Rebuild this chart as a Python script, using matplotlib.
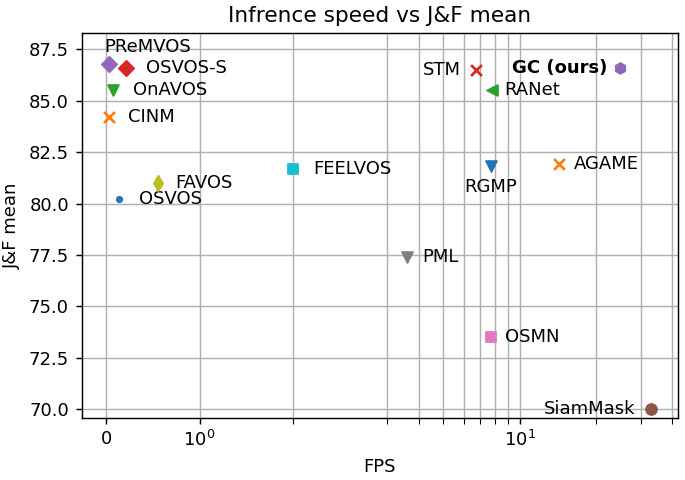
import matplotlib
matplotlib.use("Agg")
import matplotlib.pyplot as plt
import numpy as np

methods = ["OSVOS", "CINM", "OnAVOS", "OSVOS-S", "PReMVOS", "SiamMask", "OSMN",
           "PML", "FAVOS", "FEELVOS", "RGMP", "AGAME", "RANet", "STM", "GC (ours)"]
fps = [0.14, 0.03, 0.08, 0.22, 0.03, 33.0, 7.7, 3.6, 0.56, 2.0, 7.7, 14.3, 7.8, 6.7, 25.0]
jf_mean = [80.2, 84.2, 85.5, 86.6, 86.8, 70.0, 73.5, 77.4, 81.0, 81.7, 81.8, 81.9, 85.5, 86.5, 86.6]

markers = [".", "x", "v", "D", "D", "o", "s", "v", "d", "s", "v", "x", "<", "x", "h"]
# label offsets in points (dx, dy) and horizontal alignment
offsets = [(11, 0, "left"), (10.5, 0, "left"), (10.7, 0, "left"), (10.7, 0, "left"),
           (-2.2, 9.4, "left"), (-8.9, 0, "right"), (7.8, 0, "left"), (8.3, 0, "left"),
           (9.6, 0, "left"), (10.9, 0, "left"), (0, -11.6, "center"), (8, 0, "left"),
           (6.8, 0, "left"), (-8.3, 0, "right"), (-7.4, 0, "right")]

DPI = 130
fig = plt.figure(figsize=(685 / DPI, 480 / DPI), dpi=DPI)
ax = fig.add_axes([0.119, 0.130, 0.871, 0.801])

for i, (m, x, y) in enumerate(zip(methods, fps, jf_mean)):
    ax.scatter([x], [y], marker=markers[i], color="C%d" % (i % 10), zorder=3)
    dx, dy, ha = offsets[i]
    ax.annotate(m, (x, y), xytext=(dx, dy), textcoords="offset points",
                ha=ha, va="center", fontsize=10,
                fontweight="bold" if m == "GC (ours)" else "normal")

ax.set_xscale("symlog", linthresh=3, subs=[2, 3, 4, 5, 6, 7, 8, 9])
ax.set_ylim(69.6, 88.28)
ax.set_yticks([70.0, 72.5, 75.0, 77.5, 80.0, 82.5, 85.0, 87.5])
ax.grid(True, which="both")
ax.set_axisbelow(True)
ax.tick_params(which="minor", length=3.5)
ax.set_xlabel("FPS")
ax.set_ylabel("J&F mean")
ax.set_title("Infrence speed vs J&F mean")

fig.savefig("out.png", dpi=DPI)
